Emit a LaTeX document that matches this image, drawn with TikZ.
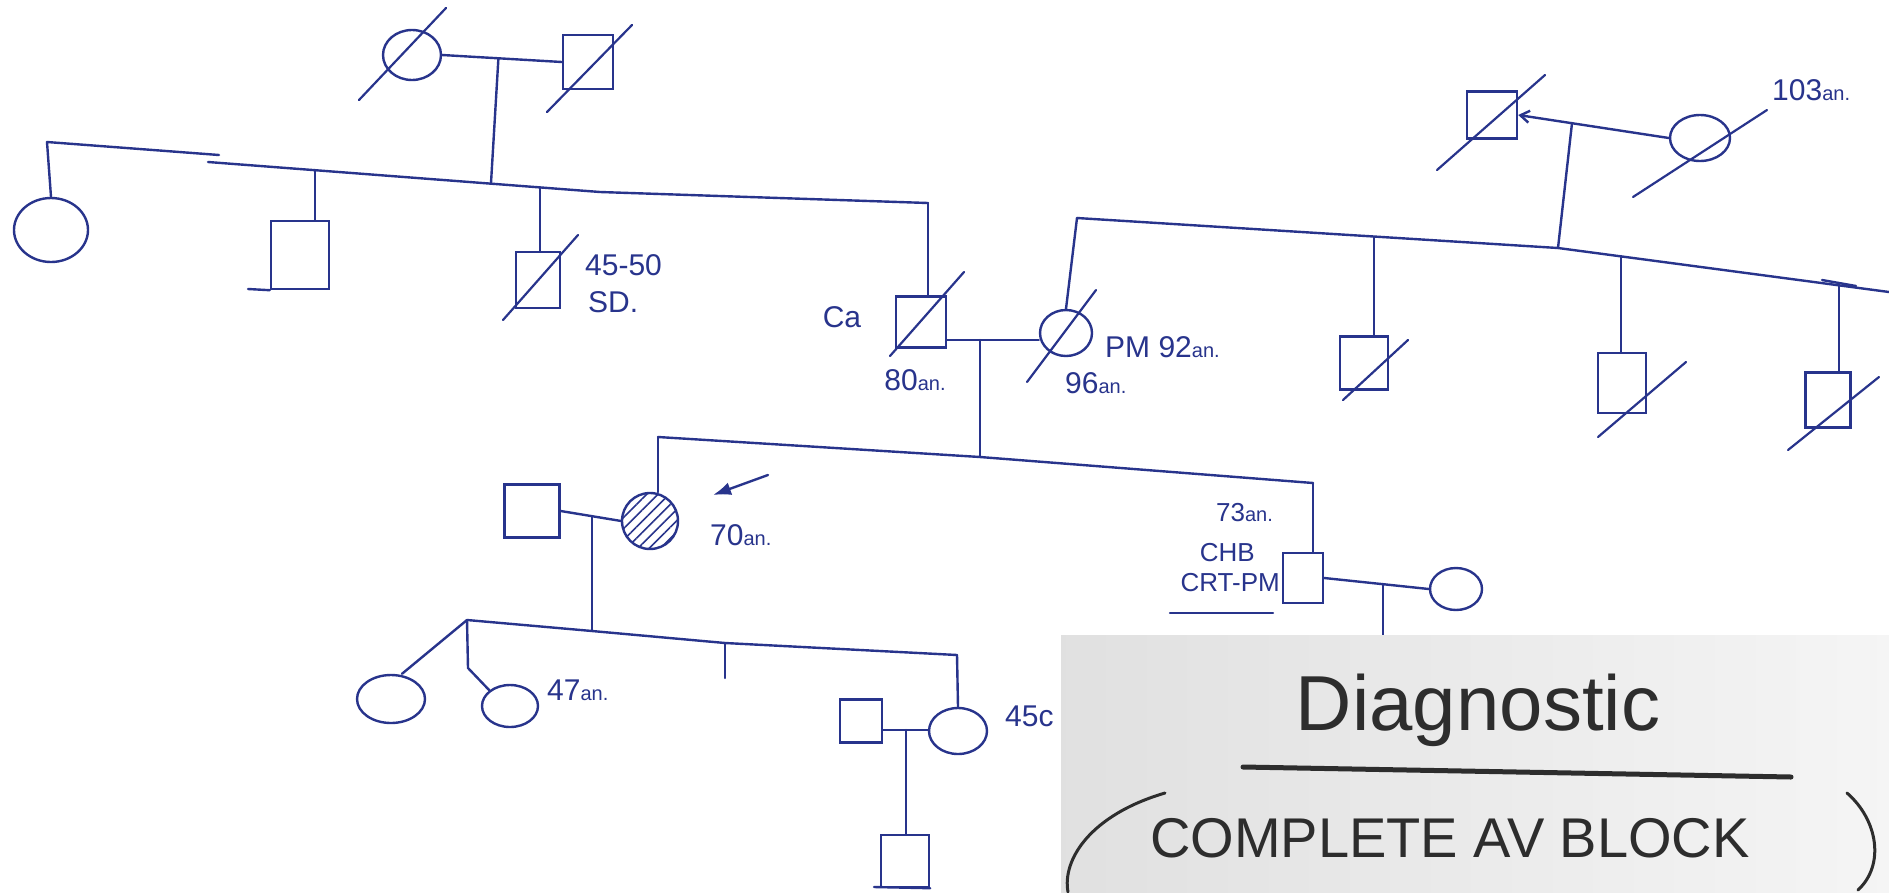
\documentclass[tikz,border=0pt]{standalone}
\usepackage{fontspec}
\setmainfont{Liberation Sans}
\usetikzlibrary{shapes.geometric,patterns.meta,arrows.meta,calc}
\definecolor{ink}{RGB}{40,52,140}
\definecolor{pen}{RGB}{45,45,45}
\newcommand{\yrs}{{\fontsize{20}{20}\selectfont an.}}
\begin{document}
\begin{tikzpicture}[x=1pt,y=-1pt,
  ln/.style={draw=ink,line width=2.4pt,line cap=round,line join=round},
  sl/.style={draw=ink,line width=2.2pt,line cap=round},
  sq/.style={draw=ink,line width=2.4pt,rectangle,inner sep=0pt},
  ci/.style={draw=ink,line width=2.4pt,ellipse,inner sep=0pt},
  lab/.style={text=ink,font=\fontsize{30}{32}\selectfont,inner sep=0pt},
  lab2/.style={text=ink,font=\fontsize{26}{28}\selectfont,inner sep=0pt,anchor=east},
  hw/.style={text=pen,inner sep=0pt},
]
\useasboundingbox (0,0) rectangle (1889,892);
\fill[white] (0,0) rectangle (1889,892);

% ---------- Generation I, left couple
\node[ci,minimum width=58pt,minimum height=50pt] (gm) at (412,55) {};
\node[sq,minimum width=50pt,minimum height=54pt] (gf) at (588,62) {};
\draw[sl] (359,100) -- (446,8);
\draw[sl] (547,112) -- (632,25);
\draw[ln] (gm.east) -- (gf.west);
\coordinate (m1) at ($(gm.east)!0.47!(gf.west)$);
\coordinate (d1) at (491,183);
\draw[ln] (m1) -- (d1);

% sibship line
\coordinate (sA) at (47,142);
\coordinate (sA2) at (219,155);
\coordinate (sB) at (208,162);
\coordinate (sC) at (600,192);
\coordinate (sD) at (928,203);
\draw[ln] (sA) -- (sA2);
\draw[ln] (sB) -- (sC) -- (sD);

\node[ci,minimum width=74pt,minimum height=64pt] (c1) at (51,230) {};
\draw[ln] (sA) -- (c1.north);

\node[sq,minimum width=58pt,minimum height=68pt] (c2) at (300,255) {};
\coordinate (t2) at (315,170);
\draw[ln] (t2) -- (t2 |- c2.north);
\coordinate (c2x) at (248,289);
\draw[ln] (c2x) -- (c2.south west);

\node[sq,minimum width=44pt,minimum height=56pt] (c3) at (538,280) {};
\coordinate (t3) at (540,188);
\draw[ln] (t3) -- (t3 |- c3.north);
\draw[sl] (503,320) -- (578,235);
\node[lab,anchor=west] (l3a) at (585,265) {45-50};
\node[lab,anchor=west] (l3b) at (588,302) {SD.};

\node[sq,minimum width=50pt,minimum height=51pt] (ca) at (921,322) {};
\draw[ln] (sD) -- (sD |- ca.north);
\draw[sl] (890,356) -- (964,272);
\node[lab] (lca) at (842,317) {Ca};
\node[lab] (lca2) at (915,380) {80\yrs};

\node[ci,minimum width=52pt,minimum height=46pt] (pm) at (1066,333) {};
\draw[sl] (1027,382) -- (1096,290);
\node[lab,anchor=west] (lpm) at (1105,347) {PM 92\yrs};
\node[lab,anchor=west] (lpm2) at (1065,383) {96\yrs};
\coordinate (mc) at (980,340);
\draw[ln] (ca.east |- mc) -- (pm.west |- mc);
\coordinate (s2m) at (980,457);
\draw[ln] (mc) -- (s2m);

% ---------- Generation I, right couple
\node[sq,minimum width=50pt,minimum height=47pt] (rgf) at (1492,115) {};
\draw[sl] (1437,170) -- (1545,75);
\node[ci,minimum width=60pt,minimum height=46pt] (rgm) at (1700,138) {};
\draw[sl] (1633,197) -- (1767,110);
\node[lab,anchor=west] (l103) at (1772,90) {103\yrs};
\draw[ln,-{Straight Barb[length=9pt,width=12pt]}] (rgm.west) -- (rgf.east);
\coordinate (mr) at (1572,123);
\coordinate (rs2) at (1558,248);
\draw[ln] (mr) -- (rs2);
\coordinate (rs1) at (1077,218);
\coordinate (rs3) at (1889,292);
\draw[ln] (rs1) -- (rs2) -- (rs3);
\draw[ln] (rs1) -- (pm.north);

\node[sq,minimum width=48pt,minimum height=53pt] (r1) at (1364,363) {};
\coordinate (tr1) at (1374,237);
\draw[ln] (tr1) -- (tr1 |- r1.north);
\draw[sl] (1343,400) -- (1408,340);
\node[sq,minimum width=48pt,minimum height=60pt] (r2) at (1622,383) {};
\coordinate (tr2) at (1621,256);
\draw[ln] (tr2) -- (tr2 |- r2.north);
\draw[sl] (1598,437) -- (1686,362);
\node[sq,minimum width=45pt,minimum height=55pt] (r3) at (1828,400) {};
\coordinate (tr3) at (1839,284);
\draw[ln] (tr3) -- (tr3 |- r3.north);
\draw[ln] (1822,280) -- (1856,286);
\draw[sl] (1788,450) -- (1879,377);

% ---------- Generation II
\coordinate (g2a) at (658,437);
\coordinate (g2b) at (1313,483);
\draw[ln] (g2a) -- (s2m) -- (g2b);
\node[ci,minimum width=56pt,minimum height=56pt,
      pattern={Lines[angle=45,distance=8pt,line width=1.6pt]},pattern color=ink] (pb) at (650,521) {};
\draw[ln] (g2a) -- (g2a |- pb.north);
\node[sq,minimum width=55pt,minimum height=53pt] (h1) at (532,511) {};
\draw[ln] (h1.east) -- (pb.west);
\coordinate (m3) at (592,516);
\coordinate (s3) at (592,631);
\draw[ln] (m3) -- (s3);
\coordinate (ar1) at (768,475);
\coordinate (ar2) at (713,495);
\draw[ln,-{Latex[length=18pt,width=13pt]}] (ar1) -- (ar2);
\node[lab,anchor=west] (l70) at (710,535) {70\yrs};

\node[sq,minimum width=40pt,minimum height=50pt] (b1) at (1303,578) {};
\draw[ln] (g2b) -- (g2b |- b1.north);
\node[lab2] (l73) at (1273,513) {73\yrs};
\node[lab2] (lchb) at (1255,553) {CHB};
\node[lab2] (lcrt) at (1280,583) {CRT-PM};
\coordinate (u0a) at (1170,613);
\coordinate (u0b) at (1273,613);
\draw[ln] (u0a) -- (u0b);
\node[ci,minimum width=52pt,minimum height=42pt] (bw) at (1456,589) {};
\draw[ln] (b1.east) -- (bw.west);
\coordinate (mb) at (1383,584);
\coordinate (mbd) at (1383,640);
\draw[ln] (mb) -- (mbd);

% ---------- Generation III
\coordinate (s3a) at (467,620);
\coordinate (s3t) at (725,643);
\coordinate (s3b) at (957,655);
\coordinate (tick) at (725,678);
\draw[ln] (s3a) -- (s3) -- (s3t) -- (s3b);
\draw[ln] (s3t) -- (tick);
\node[ci,minimum width=68pt,minimum height=48pt] (k1) at (391,699) {};
\draw[ln] (s3a) -- ($(k1.north)+(11,0)$);
\node[ci,minimum width=56pt,minimum height=42pt] (k2) at (510,706) {};
\coordinate (k2b) at (468,668);
\draw[ln] (s3a) -- (k2b) -- (k2.north west);
\node[lab,anchor=west] (l47) at (547,690) {47\yrs};
\node[ci,minimum width=58pt,minimum height=46pt] (k3) at (958,731) {};
\draw[ln] (s3b) -- (k3.north);
\node[lab,anchor=west] (l45) at (1005,716) {45c};
\node[sq,minimum width=42pt,minimum height=43pt] (k3h) at (861,721) {};
\coordinate (m4) at (906,730);
\draw[ln] (k3h.east |- m4) -- (k3.west |- m4);
\node[sq,minimum width=48pt,minimum height=52pt] (k4) at (905,861) {};
\draw[ln] (m4) -- (m4 |- k4.north);
\coordinate (k4x) at (874,887);
\draw[ln] (k4x) -- (k4.south east);

% ---------- inset photo panel
\fill[left color=black!12,right color=black!4] (1061,635) rectangle (1889,892);
\node[hw,font=\fontsize{78}{86}\selectfont] (dg) at (1478,710) {Diagnostic};
\coordinate (u1) at (1243,767);
\coordinate (u2) at (1791,777);
\draw[pen,line width=5pt,line cap=round] (u1) -- (u2);
\node[hw,font=\fontsize{56}{60}\selectfont] (cab) at (1450,838) {COMPLETE AV BLOCK};
\draw[pen,line width=3pt,line cap=round] (1165,793) .. controls (1090,815) and (1062,860) .. (1068,892);
\draw[pen,line width=3pt,line cap=round] (1847,793) .. controls (1878,820) and (1885,865) .. (1858,890);
\end{tikzpicture}
\end{document}
